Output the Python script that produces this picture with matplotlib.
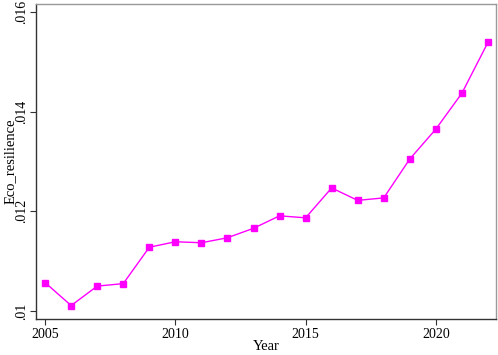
import matplotlib
matplotlib.use('Agg')
import matplotlib.pyplot as plt
from matplotlib.ticker import FuncFormatter

years = [2005, 2006, 2007, 2008, 2009, 2010, 2011, 2012, 2013,
         2014, 2015, 2016, 2017, 2018, 2019, 2020, 2021, 2022]
eco_resilience = [0.01057, 0.01011, 0.01050, 0.01055, 0.01128, 0.01139,
                  0.01137, 0.01147, 0.01166, 0.01191, 0.01187, 0.01247,
                  0.01222, 0.01227, 0.01305, 0.01365, 0.01437, 0.01539]
x_ticks = [2005, 2010, 2015, 2020]
y_ticks = [0.010, 0.012, 0.014, 0.016]

plt.rcParams['font.family'] = ['Liberation Serif', 'DejaVu Serif']

fig = plt.figure(figsize=(4.98, 3.55), dpi=100)
ax = fig.add_axes([0.0723, 0.1014, 0.9237, 0.8873])

ax.plot(years, eco_resilience, color='#FF00FF', linewidth=1.0,
        marker='s', markersize=4.5)

ax.set_xlim(2004.65, 2022.31)
ax.set_ylim(0.00984, 0.01616)
ax.set_xticks(x_ticks)
ax.set_yticks(y_ticks)


def fmt(v, pos):
    s = ('%.3f' % v).rstrip('0')
    return s[1:] if s.startswith('0') else s


ax.yaxis.set_major_formatter(FuncFormatter(fmt))
ax.tick_params(axis='both', direction='out', length=4, width=0.8,
               colors='#333333', labelcolor='black', labelsize=10)
ax.tick_params(axis='y', pad=1.5)
ax.tick_params(axis='x', pad=2.5)
for lab in ax.get_yticklabels():
    lab.set_rotation(90)
    lab.set_va('center')

ax.set_xlabel('Year', fontsize=10.5)
ax.set_ylabel('Eco_resilience', fontsize=10.5)
ax.xaxis.set_label_coords(0.5, -0.087)
ax.yaxis.set_label_coords(-0.055, 0.5)
ax.xaxis.label.set_va('center')
ax.yaxis.label.set_va('center')

for side in ['left', 'bottom']:
    ax.spines[side].set_color('#333333')
    ax.spines[side].set_linewidth(1.0)
for side in ['top', 'right']:
    ax.spines[side].set_color('#999999')
    ax.spines[side].set_linewidth(1.0)

fig.savefig('out.png', dpi=100)
